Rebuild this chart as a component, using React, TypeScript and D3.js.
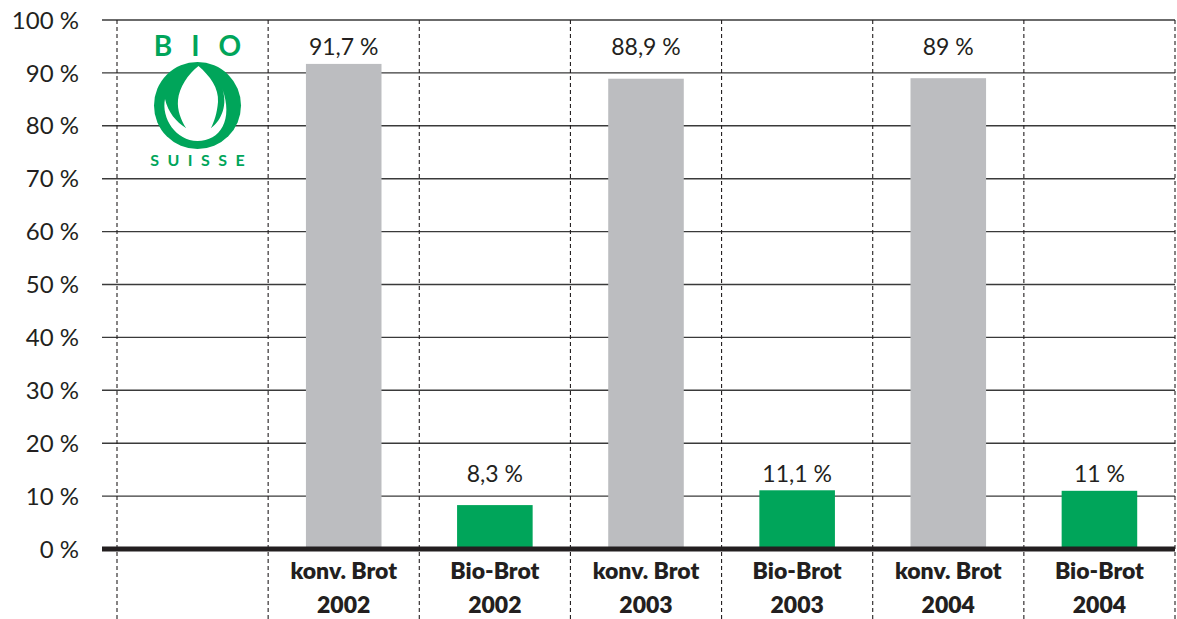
import React from "react";
import * as d3 from "d3";

const categories = ["", "konv. Brot|2002", "Bio-Brot|2002", "konv. Brot|2003", "Bio-Brot|2003", "konv. Brot|2004", "Bio-Brot|2004"];
const series = ["", "konv", "bio", "konv", "bio", "konv", "bio"];
const values: (number | null)[] = [null, 91.7, 8.3, 88.9, 11.1, 89, 11];
const valueLabels = ["", "91,7 %", "8,3 %", "88,9 %", "11,1 %", "89 %", "11 %"];
const yTicks = [0, 10, 20, 30, 40, 50, 60, 70, 80, 90, 100];

const W = 1177;
const H = 619;
const FONT = "Lato, 'Noto Sans', sans-serif";
const TEXT = "#231f20";
const GRAY = "#bcbdc0";
const GREEN = "#00a55a";

export default function App() {
  const x = d3.scaleBand<string>().domain(categories.map((c, i) => i + "")).range([117, 1175]).paddingInner(0.5).paddingOuter(0.25);
  const y = d3.scaleLinear().domain([0, 100]).range([549, 20]);
  const step = x.step();
  const colLeft = (i: number) => 117 + i * step;
  const gridX0 = 102;
  const gridX1 = 1175;

  const maxBy: Record<string, number> = {};
  values.forEach((v, i) => {
    if (v == null) return;
    const s = series[i];
    maxBy[s] = Math.max(maxBy[s] ?? 0, v);
  });

  // logo geometry (relative to centre)
  const lx = 197.5;
  const ly = 105.5;
  const lr = 43.5;
  const p = (dx: number, dy: number) => `${lx + dx} ${ly + dy}`;
  const dropPath =
    `M ${p(1, -39.5)} C ${p(12.5, -29.5)}, ${p(21.5, -17.5)}, ${p(20.5, -3.5)} ` +
    `C ${p(19.5, 8.5)}, ${p(16.5, 16.5)}, ${p(13.5, 22.5)} L ${p(-11.5, 22.5)} ` +
    `C ${p(-16.5, 14.5)}, ${p(-20.5, 4.5)}, ${p(-19.5, -5.5)} ` +
    `C ${p(-18.5, -17.5)}, ${p(-9.5, -31.5)}, ${p(1, -39.5)} Z`;
  const bowlPath =
    `M ${p(-32.5, -6.5)} C ${p(-36.5, 12.5)}, ${p(-21.5, 35.5)}, ${p(0, 35.5)} ` +
    `C ${p(22.5, 35.5)}, ${p(36.5, 14.5)}, ${p(24.5, -17.5)} ` +
    `C ${p(30.5, -1.5)}, ${p(24.5, 14.5)}, ${p(13.5, 22.5)} L ${p(-11.5, 22.5)} ` +
    `C ${p(-21.5, 16.5)}, ${p(-29.5, 6.5)}, ${p(-32.5, -6.5)} Z`;

  return (
    <div style={{ position: "fixed", left: 0, top: 0 }}>
      <svg width={W} height={H} style={{ display: "block", background: "#fff" }}>
        {/* horizontal gridlines */}
        {yTicks.filter((t) => t !== 0).map((t) => (
          <line key={t} x1={gridX0} x2={gridX1} y1={y(t)} y2={y(t)} stroke="#3a3a3a" strokeWidth={1.4} />
        ))}
        {/* dashed column separators */}
        {d3.range(categories.length + 1).map((i) => (
          <line key={i} x1={colLeft(i)} x2={colLeft(i)} y1={y(100)} y2={H} stroke="#231f20" strokeWidth={1.1} strokeDasharray="4,3" />
        ))}
        {/* bars */}
        {values.map((v, i) =>
          v == null ? null : (
            <rect key={i} x={x(i + "")} y={y(v)} width={x.bandwidth()} height={y(0) - y(v)} fill={series[i] === "bio" ? GREEN : GRAY} />
          )
        )}
        {/* zero line */}
        <line x1={gridX0} x2={gridX1} y1={y(0)} y2={y(0)} stroke="#231f20" strokeWidth={5} />
        {/* y tick labels */}
        {yTicks.map((t) => (
          <text key={t} x={79} y={y(t)} dy="0.36em" textAnchor="end" fontFamily={FONT} fontWeight={400} fontSize={24} fill={TEXT}>
            {t} %
          </text>
        ))}
        {/* value labels */}
        {values.map((v, i) =>
          v == null ? null : (
            <text key={i} x={(x(i + "") ?? 0) + x.bandwidth() / 2} y={y(maxBy[series[i]]) - 17} dy="0.36em" textAnchor="middle" fontFamily={FONT} fontWeight={400} fontSize={23} fill={TEXT}>
              {valueLabels[i]}
            </text>
          )
        )}
        {/* category labels */}
        {categories.map((c, i) => {
          if (!c) return null;
          const [a, b] = c.split("|");
          const cx = (x(i + "") ?? 0) + x.bandwidth() / 2;
          return (
            <g key={i} fontFamily={FONT} fontWeight={800} fontSize={23} fill={TEXT} textAnchor="middle">
              <text x={cx} y={571} dy="0.36em">{a}</text>
              <text x={cx} y={605} dy="0.36em">{b}</text>
            </g>
          );
        })}
        {/* Bio Suisse logo */}
        <g>
          <text x={lx} y={46} dy="0.36em" textAnchor="middle" fontFamily={FONT} fontWeight={700} fontSize={28} fill={GREEN} letterSpacing={19} dx={9.5}>
            BIO
          </text>
          <circle cx={lx} cy={ly} r={lr} fill={GREEN} />
          <path d={bowlPath} fill="#fff" />
          <path d={dropPath} fill="#fff" />
          <text x={lx} y={160} dy="0.36em" textAnchor="middle" fontFamily={FONT} fontWeight={700} fontSize={16} fill={GREEN} letterSpacing={8.5} dx={4.25}>
            SUISSE
          </text>
        </g>
      </svg>
    </div>
  );
}
